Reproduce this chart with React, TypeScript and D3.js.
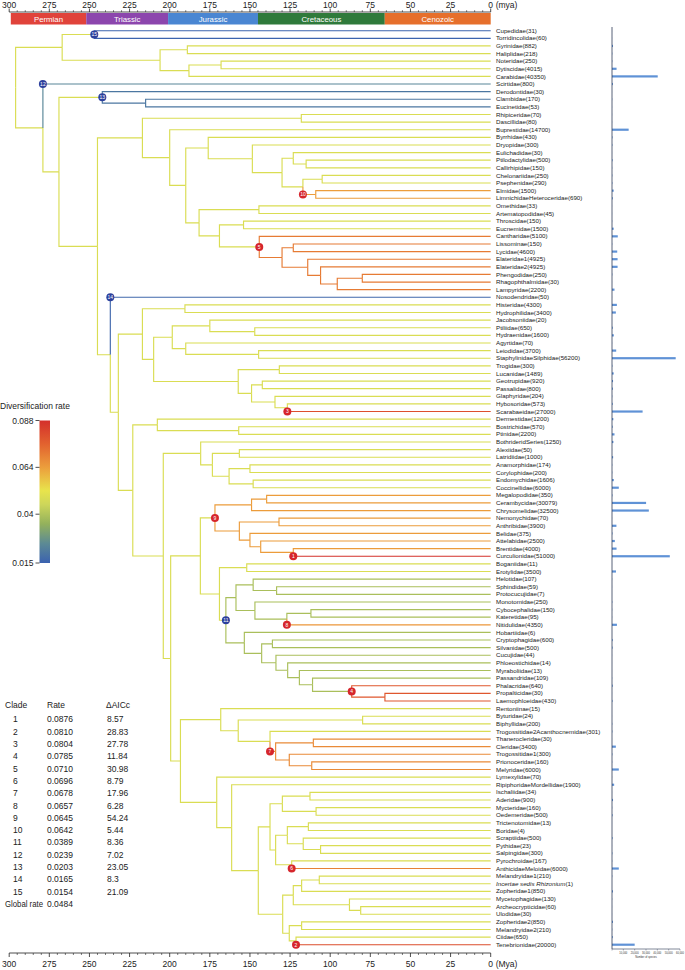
import React, { useMemo } from "react";
import * as d3 from "d3";

// ---------------- DATA ----------------
const tipNames = [
  "Cupedidae", "Torridincolidae", "Gyrinidae", "Haliplidae", "Noteridae", "Dytiscidae", "Carabidae",
  "Scirtidae", "Derodontidae", "Clambidae", "Eucinetidae", "Rhipiceridae", "Dascillidae", "Buprestidae",
  "Byrrhidae", "Dryopidae", "Eulichadidae", "Ptilodactylidae", "Callirhipidae", "Chelonariidae",
  "Psephenidae", "Elmidae", "LimnichidaeHeteroceridae", "Omethidae", "Artematopodidae", "Throscidae",
  "Eucnemidae", "Cantharidae", "Lissominae", "Lycidae", "Elateridae1", "Elateridae2", "Phengodidae",
  "Rhagophthalmidae", "Lampyridae", "Nosodendridae", "Histeridae", "Hydrophilidae", "Jacobsoniidae",
  "Ptiliidae", "Hydraenidae", "Agyrtidae", "Leiodidae", "StaphylinidaeSilphidae", "Trogidae", "Lucanidae",
  "Geotrupidae", "Passalidae", "Glaphyridae", "Hybosoridae", "Scarabaeidae", "Dermestidae", "Bostrichidae",
  "Ptinidae", "BothrideridSeries", "Alexiidae", "Latridiidae", "Anamorphidae", "Corylophidae",
  "Endomychidae", "Coccinellidae", "Megalopodidae", "Cerambycidae", "Chrysomelidae", "Nemonychidae",
  "Anthribidae", "Belidae", "Attelabidae", "Brentidae", "Curculionidae", "Boganiidae", "Erotylidae",
  "Helotidae", "Sphindidae", "Protocucujidae", "Monotomidae", "Cybocephalidae", "Kateretidae",
  "Nitidulidae", "Hobartiidae", "Cryptophagidae", "Silvanidae", "Cucujidae", "Phloeostichidae",
  "Myraboliidae", "Passandridae", "Phalacridae", "Propalticidae", "Laemophloeidae", "Rentoniinae",
  "Byturidae", "Biphyllidae", "Trogossitidae2Acanthocnemidae", "Thanerocleridae", "Cleridae",
  "Trogossitidae1", "Prionoceridae", "Melyridae", "Lymexylidae", "RipiphoridaeMordellidae", "Ischaliidae",
  "Aderidae", "Mycteridae", "Oedemeridae", "Trictenotomidae", "Boridae", "Scraptiidae", "Pythidae",
  "Salpingidae", "Pyrochroidae", "AnthicidaeMeloidae", "Melandryidae1", "Incertae sedis Rhizonium",
  "Zopheridae1", "Mycetophagidae", "Archeocrypticidae", "Ulodidae", "Zopheridae2", "Melandryidae2",
  "Ciidae", "Tenebrionidae",
];
const italicTips = ["Incertae sedis Rhizonium"];

const speciesCounts = [
  31, 60, 882, 218, 250, 4015, 40350, 800, 30, 170, 53, 70, 80, 14700, 430, 300, 30, 500, 150, 250, 290,
  1500, 690, 33, 45, 150, 1500, 5100, 150, 4600, 4925, 4925, 250, 30, 2200, 50, 4300, 3400, 20, 650, 1600,
  70, 3700, 56200, 300, 1489, 920, 800, 204, 573, 27000, 1200, 570, 2200, 1250, 50, 1000, 174, 200, 1606,
  6000, 350, 30079, 32500, 70, 3900, 375, 2500, 4000, 51000, 11, 3500, 107, 59, 7, 250, 150, 95, 4350, 6,
  600, 500, 44, 14, 13, 109, 640, 30, 430, 15, 24, 200, 301, 30, 3400, 300, 160, 6000, 70, 1900, 34, 900,
  160, 500, 13, 4, 500, 23, 300, 167, 6000, 210, 1, 850, 130, 60, 30, 850, 210, 650, 20000,
];

// tree (internal node labels = node age in Mya)
const archostemata = "(Cupedidae,Torridincolidae)247";
const adephaga = "((Gyrinidae,Haliplidae)189,((Noteridae,Dytiscidae)168,Carabidae)188)206";
const scirtoids = "(Derodontidae,(Clambidae,Eucinetidae)215)242";
const byrrhoids = "((Eulichadidae,(Ptilodactylidae,Callirhipidae)115)123,((Chelonariidae,Psephenidae)105,(Elmidae,LimnichidaeHeteroceridae)109)117)130";
const byrrhidGroup = `(Byrrhidae,(Dryopidae,${byrrhoids})148.5)176`;
const elateroids = "((Lissominae,Lycidae)123,(Elateridae1,(Elateridae2,((Phengodidae,Rhagophthalmidae)80,Lampyridae)95.6)106)114)130";
const elateroidGroup = `((Omethidae,Artematopodidae)144.4,((Throscidae,Eucnemidae)154,(Cantharidae,${elateroids})144.2)169)181.7`;
const elateriformia = `((Rhipiceridae,Dascillidae)118,(Buprestidae,(${byrrhidGroup},${elateroidGroup})190)200)217`;
const staphyliniformia = "((Histeridae,Hydrophilidae)190.5,(((Jacobsoniidae,(Ptiliidae,Hydraenidae)147)175,(Agyrtidae,(Leiodidae,StaphylinidaeSilphidae)144.6)190)198.4,((Trogidae,Lucanidae)131.7,((Geotrupidae,Passalidae)142.3,(Glaphyridae,(Hybosoridae,Scarabaeidae)126.7)134.4)149)157.3)210)217";
const bostrichoids = "(Dermestidae,(Bostrichidae,Ptinidae)157)207.7";
const coccinelloids = "(BothrideridSeries,((Alexiidae,Latridiidae)156.6,((Anamorphidae,Corylophidae)150,(Endomychidae,Coccinellidae)148)163)173.4)180.7";
const phytophaga = "(((Megalopodidae,Cerambycidae)139.6,Chrysomelidae)149,((Nemonychidae,Anthribidae)131.9,(Belidae,(Attelabidae,(Brentidae,Curculionidae)123)143.3)150)156.6)171.8";
const cucujoids = "(((Helotidae,(Sphindidae,Protocucujidae)133.4)148,(Monotomidae,((Cybocephalidae,Kateretidae)112,Nitidulidae)127)146.9)158.7,(Hobartiidae,((Cryptophagidae,Silvanidae)136,(Cucujidae,(Phloeostichidae,(Myraboliidae,(Passandridae,(Phalacridae,(Propalticidae,Laemophloeidae)65.9)86.6)111)119.2)126.5)133.8)142.7)153.5)165";
const phytoCucujoids = `(${phytophaga},((Boganiidae,Erotylidae)152,${cucujoids})169)180.9`;
const cleroids = "(Rentoniinae,((Byturidae,Biphyllidae)79.8,(Trogossitidae2Acanthocnemidae,((Thanerocleridae,Cleridae)110.5,(Trogossitidae1,(Prionoceridae,Melyridae)111.5)125.5)134)137.5)157.3)168.2";
const tenebrionoidsA = "(((Ischaliidae,Aderidae)112.6,(Mycteridae,Oedemeridae)108.8)129.8,(((Trictenotomidae,Boridae)113.6,(Scraptiidae,(Pythidae,Salpingidae)106)116.8)126.7,(Pyrochroidae,AnthicidaeMeloidae)124)134)137.5";
const tenebrionoidsB = "((((Melandryidae1,Incertae_sedis_Rhizonium)106.8,Zopheridae1)117.8,(Mycetophagidae,(Archeocrypticidae,Ulodidae)81)88)123,((Zopheridae2,Melandryidae2)117.8,(Ciidae,Tenebrionidae)121.3)125.5)129.6";
const tenebrionoids = `(Lymexylidae,(RipiphoridaeMordellidae,(${tenebrionoidsA},${tenebrionoidsB})144.8)161.4)170.7`;
const cleroTeneb = `(${cleroids},${tenebrionoids})193.3`;
const cucujiformia = `(${coccinelloids},(${phytoCucujoids},${cleroTeneb})199.4)204`;
const bostrichCucuj = `(${bostrichoids},${cucujiformia})223`;
const polyphagaCore = `(Nosodendridae,(${staphyliniformia},${bostrichCucuj})232)237`;
const polyphaga = `(Scirtidae,(${scirtoids},(${elateriformia},${polyphagaCore})245)269)279`;
const treeNewick = `((${archostemata},${adephaga})267,${polyphaga})296`;

// rate shifts
const cladeIds = [1, 2, 3, 4, 5, 6, 7, 8, 9, 10, 11, 12, 13, 14, 15];
const cladeRates = [0.0876, 0.081, 0.0804, 0.0785, 0.071, 0.0696, 0.0678, 0.0657, 0.0645, 0.0642, 0.0389, 0.0239, 0.0203, 0.0165, 0.0154];
const cladeDeltaAICc = ["8.57", "28.83", "27.78", "11.84", "30.98", "8.79", "17.96", "6.28", "54.24", "5.44", "8.36", "7.02", "23.05", "8.3", "21.09"];
const cladeTips = [
  ["Curculionidae"], ["Tenebrionidae"], ["Scarabaeidae"], ["Phalacridae", "Laemophloeidae"],
  ["Cantharidae", "Lampyridae"], ["AnthicidaeMeloidae"], ["Thanerocleridae", "Melyridae"], ["Nitidulidae"],
  ["Megalopodidae", "Curculionidae"], ["Elmidae", "LimnichidaeHeteroceridae"], ["Helotidae", "Laemophloeidae"],
  ["Scirtidae"], ["Derodontidae", "Eucinetidae"], ["Nosodendridae"], ["Cupedidae", "Torridincolidae"],
];
const cladeKinds = ["branch", "branch", "branch", "clade", "clade", "branch", "branch", "branch", "clade", "branch", "clade", "branch", "clade", "branch", "clade"];
const globalRate = 0.0484;

const periodNames = ["Permian", "Triassic", "Jurassic", "Cretaceous", "Cenozoic"];
const periodStarts = [299, 252, 201, 145, 66];
const periodEnds = [252, 201, 145, 66, 0];
const periodColors = ["#e0433b", "#8c46ad", "#4a86d2", "#2f7a3b", "#e66f2b"];

const rateStops = [0.015, 0.025, 0.035, 0.045, 0.052, 0.064, 0.076, 0.088];
const rateColors = ["#3b62b0", "#5c8a94", "#93b15c", "#cdd65a", "#e8e44c", "#ec9e3c", "#e2622f", "#d42f2b"];
const legendTicks = [0.088, 0.064, 0.04, 0.015];
const barTicks = [0, 10000, 20000, 30000, 40000, 50000, 60000];

// ---------------- helpers ----------------
function parseNewick(s: string) {
  let i = 0;
  function node(): any {
    const n: any = { children: [], name: "", age: 0 };
    if (s[i] === "(") {
      i++;
      n.children.push(node());
      while (s[i] === ",") { i++; n.children.push(node()); }
      i++;
    }
    let label = "";
    while (i < s.length && !",()".includes(s[i])) label += s[i++];
    if (n.children.length) n.age = +label; else n.name = label.replace(/_/g, " ");
    return n;
  }
  return node();
}

const FONT = "'Liberation Sans', Arial, Helvetica, sans-serif";

export default function App() {
  const W = 685, H = 970;
  const x = d3.scaleLinear().domain([300, 0]).range([9.2, 490.7]);
  const yTip = d3.scalePoint<string>().domain(tipNames).range([30.7, 944.7]);
  const rateColor = d3.scaleLinear<string>().domain(rateStops).range(rateColors).interpolate(d3.interpolateRgb).clamp(true);
  const xBar = d3.scaleLinear().domain([0, 60000]).range([612, 680]);
  const yLegend = d3.scaleLinear().domain([0.015, 0.088]).range([563, 420.5]);

  const { edges, circles } = useMemo(() => {
    const root: any = d3.hierarchy(parseNewick(treeNewick), (d: any) => (d.children.length ? d.children : null));
    root.eachAfter((n: any) => {
      n.yy = n.children ? d3.mean(n.children, (c: any) => c.yy) : yTip(n.data.name);
    });
    const leaves = root.leaves();
    const leafBy = (nm: string) => leaves.find((l: any) => l.data.name === nm);
    const shiftNodes = cladeTips.map((tips) => {
      if (tips.length === 1) return leafBy(tips[0]);
      const a = leafBy(tips[0]), b = leafBy(tips[1]);
      const anc = new Set(a.ancestors());
      return b.ancestors().find((n: any) => anc.has(n));
    });
    const branchShift = new Map(), cladeShift = new Map();
    shiftNodes.forEach((n: any, k: number) => {
      (cladeKinds[k] === "branch" ? branchShift : cladeShift).set(n, cladeRates[k]);
    });
    root.each((n: any) => {
      const inherited = n.parent ? n.parent.childRate : globalRate;
      n.edgeRate = branchShift.has(n) ? branchShift.get(n) : inherited;
      n.childRate = cladeShift.has(n) ? cladeShift.get(n) : n.edgeRate;
    });
    const edges = root.descendants().filter((n: any) => n.parent).map((n: any) => ({
      d: `M${x(n.parent.data.age)},${n.parent.yy}V${n.yy}H${x(n.data.age)}`,
      color: rateColor(n.edgeRate),
    }));
    const circles = shiftNodes.map((n: any, k: number) => ({
      id: cladeIds[k],
      cx: cladeKinds[k] === "branch" ? x(n.parent.data.age) : x(n.data.age),
      cy: n.yy,
      fill: cladeRates[k] > globalRate ? "#d6262c" : "#2d409c",
    }));
    return { edges, circles };
  }, []);

  const majorTicks = d3.range(300, -1, -25);
  const minorTicks = d3.range(300, -1, -5).filter((t) => t % 25 !== 0);
  const fmtRate = d3.format(".4f");

  return (
    <svg width={W} height={H} style={{ position: "absolute", left: 0, top: 0, background: "#fff" }} fontFamily={FONT}>
      <defs>
        <linearGradient id="rateGrad" x1="0" y1="1" x2="0" y2="0">
          {rateStops.map((r, k) => (
            <stop key={k} offset={(r - 0.015) / (0.088 - 0.015)} stopColor={rateColors[k]} />
          ))}
        </linearGradient>
      </defs>

      {/* top time axis */}
      <line x1={x(300)} x2={x(0)} y1={12} y2={12} stroke="#222" strokeWidth={0.8} />
      {majorTicks.map((t) => (
        <g key={"tt" + t}>
          <line x1={x(t)} x2={x(t)} y1={12} y2={8.5} stroke="#222" strokeWidth={0.8} />
          <text x={x(t)} y={8} fontSize={8.5} textAnchor="middle" fill="#222">{t}</text>
        </g>
      ))}
      {minorTicks.map((t) => (
        <line key={"tm" + t} x1={x(t)} x2={x(t)} y1={12} y2={10.2} stroke="#222" strokeWidth={0.6} />
      ))}
      <text x={x(0) + 5} y={8} fontSize={8.5} fill="#222">(mya)</text>

      {/* periods */}
      {periodNames.map((p, k) => (
        <g key={p}>
          <rect x={x(periodStarts[k])} y={13} width={x(periodEnds[k]) - x(periodStarts[k])} height={11.5} fill={periodColors[k]} />
          <text x={(x(periodStarts[k]) + x(periodEnds[k])) / 2} y={21.8} fontSize={7.8} textAnchor="middle" fill="#fff">{p}</text>
        </g>
      ))}

      {/* tree */}
      <g fill="none" strokeWidth={1.15}>
        {edges.map((e: any, k: number) => (
          <path key={k} d={e.d} stroke={e.color} />
        ))}
      </g>
      {circles.map((c: any) => (
        <g key={"c" + c.id}>
          <circle cx={c.cx} cy={c.cy} r={4} fill={c.fill} />
          <text x={c.cx} y={c.cy + 1.8} fontSize={5} textAnchor="middle" fill="#fff">{c.id}</text>
        </g>
      ))}

      {/* tip labels */}
      {tipNames.map((nm, k) => (
        <text key={nm} x={496} y={(yTip(nm) as number) + 2.1} fontSize={6.2} fill="#222">
          {italicTips.includes(nm) ? (
            <>
              <tspan fontStyle="italic">{nm}</tspan>
              <tspan>{`(${speciesCounts[k]})`}</tspan>
            </>
          ) : (
            `${nm}(${speciesCounts[k]})`
          )}
        </text>
      ))}

      {/* species bars */}
      {tipNames.map((nm, k) => (
        <rect key={"b" + nm} x={xBar(0)} y={(yTip(nm) as number) - 1.1} width={xBar(speciesCounts[k]) - xBar(0)} height={2.2} fill="#5f92d6" />
      ))}
      <line x1={612} x2={612} y1={27} y2={949} stroke="#2e3a55" strokeWidth={0.8} />
      <line x1={612} x2={680} y1={949} y2={949} stroke="#2e3a55" strokeWidth={0.6} />
      {barTicks.map((t) => (
        <g key={"bt" + t}>
          <line x1={xBar(t)} x2={xBar(t)} y1={949} y2={950.5} stroke="#2e3a55" strokeWidth={0.4} />
          {t > 0 && (
            <text x={xBar(t)} y={953.5} fontSize={2.6} textAnchor="middle" fill="#333">{d3.format(",")(t)}</text>
          )}
        </g>
      ))}
      <text x={646} y={957.5} fontSize={2.6} textAnchor="middle" fill="#333">Number of species</text>

      {/* bottom time axis */}
      <line x1={x(300)} x2={x(0)} y1={953} y2={953} stroke="#222" strokeWidth={0.8} />
      {majorTicks.map((t) => (
        <g key={"bb" + t}>
          <line x1={x(t)} x2={x(t)} y1={953} y2={957} stroke="#222" strokeWidth={0.8} />
          <text x={x(t)} y={967} fontSize={8.5} textAnchor="middle" fill="#222">{t}</text>
        </g>
      ))}
      {minorTicks.map((t) => (
        <line key={"bm" + t} x1={x(t)} x2={x(t)} y1={953} y2={955} stroke="#222" strokeWidth={0.6} />
      ))}
      <text x={x(0) + 5} y={967} fontSize={8.5} fill="#222">(Mya)</text>

      {/* colour legend */}
      <text x={0} y={409} fontSize={8.5} fill="#222">Diversification rate</text>
      <rect x={39.5} y={yLegend(0.088)} width={10.5} height={yLegend(0.015) - yLegend(0.088)} fill="url(#rateGrad)" />
      {legendTicks.map((t) => (
        <g key={"lt" + t}>
          <line x1={35.5} x2={39.5} y1={yLegend(t)} y2={yLegend(t)} stroke="#222" strokeWidth={0.8} />
          <text x={33.5} y={yLegend(t) + 3} fontSize={8.5} textAnchor="end" fill="#222">{t}</text>
        </g>
      ))}

      {/* table */}
      <g fontSize={8.5} fill="#222">
        <text x={5} y={708}>Clade</text>
        <text x={47} y={708}>Rate</text>
        <text x={106} y={708}>ΔAICc</text>
        {cladeIds.map((id, k) => (
          <g key={"row" + id}>
            <text x={13} y={722.4 + 12.3 * k}>{id}</text>
            <text x={47} y={722.4 + 12.3 * k}>{fmtRate(cladeRates[k])}</text>
            <text x={107} y={722.4 + 12.3 * k}>{cladeDeltaAICc[k]}</text>
          </g>
        ))}
        <text x={5} y={722.4 + 12.3 * 15} textLength={38} lengthAdjust="spacingAndGlyphs">Global rate</text>
        <text x={47} y={722.4 + 12.3 * 15}>{fmtRate(globalRate)}</text>
      </g>
    </svg>
  );
}
